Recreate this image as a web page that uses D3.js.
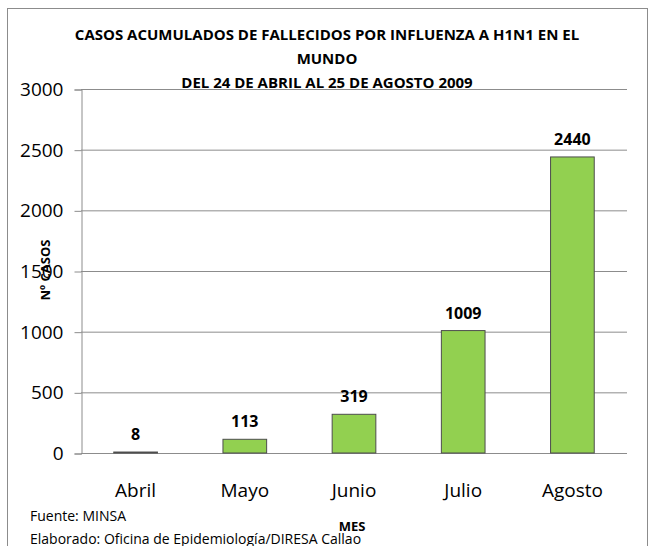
<!DOCTYPE html>
<html>
<head>
<meta charset="utf-8">
<script src="https://cdn.jsdelivr.net/npm/d3@7.9.0/dist/d3.min.js"></script>
<style>
  body { margin: 0; background: #fff; }
  svg { font-family: "Liberation Sans Narrow", "Open Sans", sans-serif; }
</style>
</head>
<body>
<svg width="651" height="546"></svg>
<script>
const months = ['Abril', 'Mayo', 'Junio', 'Julio', 'Agosto'];
const deaths = [8, 113, 319, 1009, 2440];
const yTicks = [0, 500, 1000, 1500, 2000, 2500, 3000];
const titleLines = [
  'CASOS ACUMULADOS DE FALLECIDOS POR INFLUENZA A H1N1 EN EL',
  'MUNDO',
  'DEL 24 DE ABRIL AL 25 DE AGOSTO 2009'
];

const svg = d3.select('svg');
const margin = { left: 81, right: 24, top: 89, bottom: 93 };
const width = 651, height = 546;

// outer frame
svg.append('rect')
  .attr('x', 7.5).attr('y', 8.5)
  .attr('width', 640).attr('height', 560)
  .attr('fill', 'none').attr('stroke', '#8c8c8c');

let x = d3.scaleBand()
  .domain(months)
  .range([margin.left, width - margin.right])
  .paddingInner(0.6).paddingOuter(0.3);

let y = d3.scaleLinear()
  .domain([0, 3000])
  .range([height - margin.bottom, margin.top]);

// gridlines
svg.append('g')
  .selectAll('line')
  .data(yTicks.filter(d => d > 0))
  .join('line')
  .attr('x1', margin.left).attr('x2', width - margin.right)
  .attr('y1', d => y(d) + 0.5).attr('y2', d => y(d) + 0.5)
  .attr('stroke', '#8c8c8c');

// y axis
let yAxis = svg.append('g')
  .attr('transform', `translate(${margin.left + 0.5},0.5)`)
  .call(d3.axisLeft(y).tickValues(yTicks).tickSize(7).tickPadding(11).tickFormat(d3.format('d')));
yAxis.select('.domain').attr('stroke', '#8c8c8c');
yAxis.selectAll('.tick line').attr('stroke', '#8c8c8c');
yAxis.selectAll('text')
  .attr('font-size', 19).attr('fill', '#000')
  .attr('font-family', '"Liberation Sans Narrow", "Open Sans", sans-serif');

// x axis baseline
svg.append('line')
  .attr('x1', margin.left).attr('x2', width - margin.right)
  .attr('y1', y(0) + 0.5).attr('y2', y(0) + 0.5)
  .attr('stroke', '#8c8c8c');

// bars
svg.append('g')
  .selectAll('rect')
  .data(deaths)
  .join('rect')
  .attr('x', (d, i) => x(months[i]))
  .attr('y', d => y(d))
  .attr('width', x.bandwidth())
  .attr('height', d => y(0) - y(d))
  .attr('fill', '#92d050')
  .attr('stroke', '#4d4d4d')
  .attr('stroke-width', 1);

// value labels
svg.append('g')
  .selectAll('text')
  .data(deaths)
  .join('text')
  .attr('x', (d, i) => x(months[i]) + x.bandwidth() / 2)
  .attr('y', d => y(d) - 12)
  .attr('text-anchor', 'middle')
  .attr('font-size', 16).attr('font-weight', 'bold')
  .text(d => d);

// category labels
svg.append('g')
  .selectAll('text')
  .data(months)
  .join('text')
  .attr('x', d => x(d) + x.bandwidth() / 2)
  .attr('y', 497)
  .attr('text-anchor', 'middle')
  .attr('font-size', 19)
  .text(d => d);

// title
svg.append('g')
  .selectAll('text')
  .data(titleLines)
  .join('text')
  .attr('x', 327)
  .attr('y', (d, i) => 40 + i * 24)
  .attr('text-anchor', 'middle')
  .attr('font-size', 15).attr('font-weight', 'bold')
  .text(d => d);

// axis titles
svg.append('text')
  .attr('transform', 'translate(50,270) rotate(-90)')
  .attr('text-anchor', 'middle')
  .attr('font-size', 13).attr('font-weight', 'bold')
  .text('Nº CASOS');

svg.append('text')
  .attr('x', 352).attr('y', 531)
  .attr('text-anchor', 'middle')
  .attr('font-size', 13).attr('font-weight', 'bold')
  .text('MES');

// footnotes
svg.append('text')
  .attr('x', 30).attr('y', 521)
  .attr('font-size', 14)
  .text('Fuente: MINSA');
svg.append('text')
  .attr('x', 30).attr('y', 544)
  .attr('font-size', 14)
  .text('Elaborado: Oficina de Epidemiología/DIRESA Callao');
</script>
</body>
</html>
